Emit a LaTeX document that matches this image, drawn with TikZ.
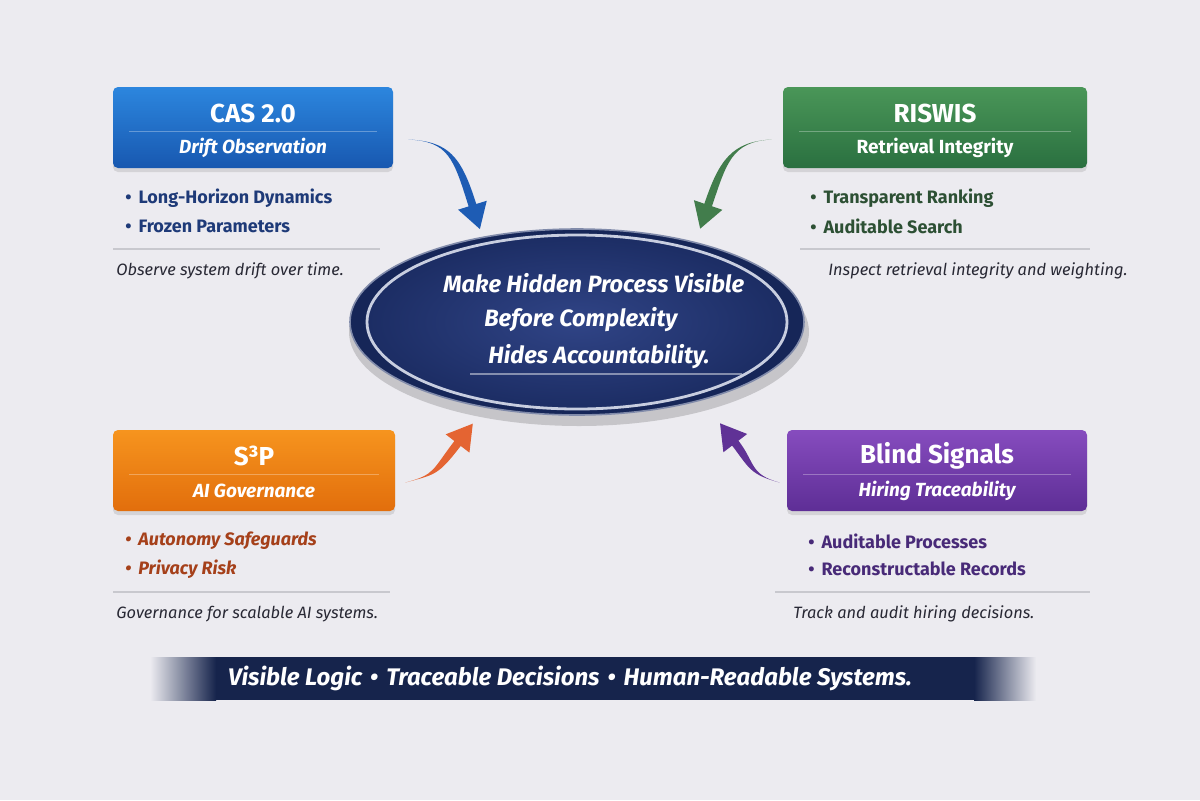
\documentclass[tikz,border=0pt]{standalone}
\usepackage{fontspec}
\setmainfont{Fira Sans}
\usetikzlibrary{shapes.geometric,shadows,calc}

\begin{document}
\begin{tikzpicture}[x=0.5pt, y=-0.5pt,
		card/.style={rounded corners=2.5pt, top color=#1-top, bottom color=#1-bot, minimum height=40.5pt,
			drop shadow={opacity=0.22, shadow xshift=0pt, shadow yshift=-2pt}},
		cardtitle/.style={text=white, font=\bfseries\fontsize{13}{15}\selectfont},
		cardsub/.style={text=white, font=\bfseries\fontsize{9.5}{11}\selectfont},
		item/.style={anchor=west, inner sep=0pt, text=#1, font=\bfseries\fontsize{9}{11}\selectfont},
		note/.style={anchor=west, inner sep=0pt, text=notetext, font=\itshape\fontsize{8.2}{10}\selectfont},
		rule/.style={draw=rulegray, line width=0.6pt},
		motto/.style={anchor=west, inner sep=0pt, text=white, font=\bfseries\itshape\fontsize{11.8}{13}\selectfont}
		]
		
		% ==========================================
		% COLOURS
		% ==========================================
		\definecolor{bg}{RGB}{236,235,240}
		\definecolor{cas-top}{RGB}{44,134,222}  \definecolor{cas-bot}{RGB}{24,88,176}
		\definecolor{cas-txt}{RGB}{30,58,120}   \definecolor{cas-arr}{RGB}{30,92,180}
		\definecolor{ris-top}{RGB}{74,150,88}   \definecolor{ris-bot}{RGB}{42,112,64}
		\definecolor{ris-txt}{RGB}{45,80,52}    \definecolor{ris-arr}{RGB}{66,125,76}
		\definecolor{s3p-top}{RGB}{246,148,30}  \definecolor{s3p-bot}{RGB}{226,110,12}
		\definecolor{s3p-txt}{RGB}{165,64,26}   \definecolor{s3p-arr}{RGB}{228,100,50}
		\definecolor{bls-top}{RGB}{134,76,190}  \definecolor{bls-bot}{RGB}{94,46,150}
		\definecolor{bls-txt}{RGB}{72,42,120}   \definecolor{bls-arr}{RGB}{96,50,150}
		\definecolor{notetext}{RGB}{40,40,52}
		\definecolor{rulegray}{RGB}{200,200,206}
		\definecolor{corerim}{RGB}{22,38,88}
		\definecolor{corein}{RGB}{48,68,134}
		\definecolor{coreout}{RGB}{28,45,100}
		\definecolor{ringcol}{RGB}{200,206,224}
		\definecolor{band}{RGB}{22,36,76}
		
		% page
		\fill[bg] (0,0) rectangle (1200,800);
		\useasboundingbox (0,0) rectangle (1200,800);
		
		% ==========================================
		% FOUR CARDS
		% ==========================================
		% name / left / top / width / bullet x / note x / rule from / rule to / shapes / texts
		\foreach \n/\bx/\by/\bw/\dx/\nx/\la/\lb/\ss/\bs/\title/\sub/\bi/\bii/\note in {
			cas/113/87/280/12/3/0/267/\itshape/\upshape/CAS 2.0/Drift Observation/Long-Horizon Dynamics/Frozen Parameters/Observe system drift over time.,
			ris/783/87/304/27/45/17/307/\upshape/\upshape/RISWIS/Retrieval Integrity/Transparent Ranking/Auditable Search/Inspect retrieval integrity and weighting.,
			s3p/113/430/282/12/3/0/277/\itshape/\itshape/S³P/AI Governance/Autonomy Safeguards/Privacy Risk/Governance for scalable AI systems.,
			bls/787/430/300/21/6/-12/303/\itshape/\upshape/Blind Signals/Hiring Traceability/Auditable Processes/Reconstructable Records/Track and audit hiring decisions.} {
			
			\node[card=\n, minimum width=\bw*0.5pt] (\n) at (\bx+\bw/2, \by+40.5) {};
			\node[cardtitle] (\n-title) at (\bx+\bw/2, \by+26) {\title};
			\draw[white, opacity=0.3, line width=0.5pt] (\bx+16, \by+44) -- (\bx+\bw-16, \by+44);
			\node[cardsub] (\n-sub) at (\bx+\bw/2, \by+61) {\ss\sub};
			
			% bullet list
			\node[item=\n-txt] (\n-a) at (\bx+\dx, \by+111) {\bs •\hspace{3.5pt}\bi};
			\node[item=\n-txt] (\n-b) at (\bx+\dx, \by+139) {\bs •\hspace{3.5pt}\bii};
			
			% rule and remark
			\draw[rule] (\bx+\la, \by+162) -- (\bx+\lb, \by+162);
			\node[note] (\n-note) at (\bx+\nx, \by+184) {\note};
		}
		
		% ==========================================
		% CENTRAL ELLIPSE
		% ==========================================
		\fill[black, opacity=0.16] (579,332) ellipse [x radius=115pt, y radius=47pt];
		\node[ellipse, minimum width=227pt, minimum height=93pt, fill=corerim,
			draw=ringcol!60!corerim, line width=0.8pt] (core) at (577,322) {};
		\draw[ringcol, line width=1.4pt, inner color=corein, outer color=coreout]
			(core.center) ellipse [x radius=105pt, y radius=43.5pt];
		
		\node[motto] (m1) at (443,283) {Make Hidden Process Visible};
		\node[motto] (m2) at (484,320) {Before Complexity};
		\node[motto] (m3) at (488,357) {Hides Accountability.};
		\draw[white, opacity=0.45, line width=0.6pt] (470,374) -- (742,374);
		
		% ==========================================
		% TAPERED CURVED ARROWS  card -> ellipse
		% ==========================================
		% card / anchor / tail offset / first control / ellipse angle / second control / gap / colour
		\foreach \src/\sa/\tx/\ty/\ax/\ay/\anc/\cx/\cy/\gap/\col in {
			cas/east/15/12/40/2/138/-25/-80/4/cas-arr,
			ris/west/-11/12/-40/2/34/27/-80/7/ris-arr,
			s3p/east/10/12/30/-8/223/-50/65/10/s3p-arr,
			bls/west/-7/12/-30/-8/328/50/65/14.5/bls-arr} {
			\coordinate (T) at ($(\src.\sa)+(\tx,\ty)$);
			\coordinate (C1) at ($(T)+(\ax,\ay)$);
			\coordinate (C2) at ($(core.\anc)+(\cx,\cy)$);
			\coordinate (P) at ($(core.\anc)!\gap pt!(C2)$);
			\coordinate (N) at ($(P)!12.5pt!(C2)$);
			\fill[\col] (T) .. controls (C1) and ($(C2)!2pt!-90:(N)$) .. ($(N)!2pt!90:(C2)$)
				-- ($(N)!7.5pt!90:(C2)$) -- (P) -- ($(N)!7.5pt!-90:(C2)$) -- ($(N)!2pt!-90:(C2)$)
				.. controls ($(C2)!2pt!90:(N)$) and (C1) .. (T) -- cycle;
		}
		
		% ==========================================
		% BOTTOM BANNER
		% ==========================================
		\shade[left color=bg, middle color=black!65, right color=bg] (115,646) rectangle (1080,648.5);
		\shade[left color=bg, right color=band] (150,657) rectangle (216,700);
		\shade[left color=band, right color=bg] (974,657) rectangle (1036,700);
		\node[fill=band, minimum width=379pt, minimum height=21.5pt, inner sep=0pt] (banner) at (595,678.5) {};
		\node[text=white, font=\bfseries\itshape\fontsize{12}{14}\selectfont] (tagline) at (570,678)
			{Visible Logic\hspace{4pt}•\hspace{4pt}Traceable Decisions\hspace{4pt}•\hspace{4pt}Human-Readable Systems.};
		
	\end{tikzpicture}
\end{document}
